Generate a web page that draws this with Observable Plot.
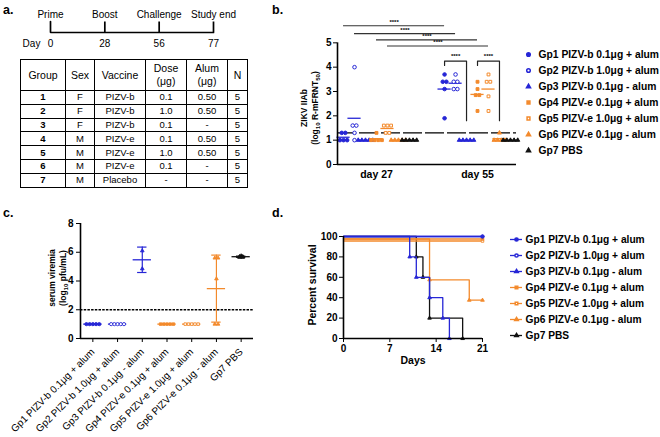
<!DOCTYPE html>
<html><head><meta charset="utf-8">
<script src="https://cdn.jsdelivr.net/npm/d3@7"></script>
<script src="https://cdn.jsdelivr.net/npm/@observablehq/plot@0.6"></script>
<style>
html,body{margin:0;padding:0;background:#fff;}
#root{position:relative;width:660px;height:437px;overflow:hidden;background:#fff;font-family:"Liberation Sans",Arial,Helvetica,sans-serif;color:#000;}
.pos{position:absolute;}
.panel-label{position:absolute;font-weight:bold;font-size:12.5px;line-height:1;}
.ylab{position:absolute;transform:translate(-50%,-50%) rotate(-90deg);white-space:nowrap;text-align:center;font-weight:bold;line-height:1.25;}
.ylab sub{font-size:0.72em;vertical-align:-0.3em;line-height:0;}
table.design{position:absolute;left:20px;top:59px;border-collapse:collapse;table-layout:fixed;font-size:9.5px;border:1.3px solid #000;}
table.design td{border:1px solid #000;padding:0;text-align:center;height:12.8px;line-height:12px;}
table.design tr.head td{height:30px;font-size:10.5px;line-height:13px;}
table.design td.gnum{font-weight:bold;}
#pb svg g[aria-label^="y-axis"] text, #pc svg g[aria-label^="y-axis"] text, #pd svg g[aria-label^="y-axis"] text{font-weight:bold;font-size:10px;}
#pb svg g[aria-label^="x-axis"] text{font-weight:bold;font-size:10.5px;}
#pc svg g[aria-label^="x-axis"] text{font-size:10px;}
#pd svg g[aria-label^="x-axis"] text{font-weight:bold;font-size:10px;}
</style></head>
<body><div id="root"></div>
<script>
// ---------------- data ----------------
const groupNames = ["Gp1 PIZV-b 0.1μg + alum","Gp2 PIZV-b 1.0μg + alum","Gp3 PIZV-b 0.1μg - alum","Gp4 PIZV-e 0.1μg + alum","Gp5 PIZV-e 1.0μg + alum","Gp6 PIZV-e 0.1μg - alum","Gp7 PBS"];

// panel a
const timelineEvents = ["Prime","Boost","Challenge","Study end"];
const timelineDays = ["0","28","56","77"];
const tableHeader = ["Group","Sex","Vaccine","Dose<br>(μg)","Alum<br>(μg)","N"];
const tableGroup = ["1","2","3","4","5","6","7"];
const tableSex = ["F","F","F","M","M","M","M"];
const tableVaccine = ["PIZV-b","PIZV-b","PIZV-b","PIZV-e","PIZV-e","PIZV-e","Placebo"];
const tableDose = ["0.1","1.0","0.1","0.1","1.0","0.1","-"];
const tableAlum = ["0.50","0.50","-","0.50","0.50","-","-"];
const tableN = ["5","5","5","5","5","5","5"];

// panel b: ZIKV nAb, log10, per group (Gp1..Gp7)
const dayLabels = ["day 27","day 55"];
const nabDay27 = [
  [1.3,1.3,1.0,1.0,1.0],
  [4.0,1.6,1.6,1.3,1.0],
  [1.0,1.0,1.0,1.0,1.0],
  [1.3,1.0,1.0,1.0,1.0],
  [1.6,1.6,1.6,1.3,1.3],
  [1.0,1.0,1.0,1.0,1.0],
  [1.0,1.0,1.0,1.0,1.0]
];
const nabDay55 = [
  [3.7,3.4,3.4,3.1,1.9],
  [3.7,3.4,3.4,3.1,3.1],
  [1.0,1.0,1.0,1.0,1.0],
  [3.4,3.1,2.85,2.85,2.2],
  [3.7,3.4,3.4,2.8,2.2],
  [1.3,1.0,1.0,1.0,1.0],
  [1.0,1.0,1.0,1.0,1.0]
];
const lodNab = 1.3;
const sigGroups = [0,1,3,4];          // day 27 vs day 55 comparisons
const sigLevels = [5.7,5.38,5.12,4.87];
const bracketFrom = [0,3], bracketTo = [2,5];
const bracketTop = [4.25,4.25], bracketLeftEnd = [4.07,4.07], bracketRightEnd = [1.8,1.8];
const sigText = "****";

// panel c: serum viremia log10 pfu/mL
const viremia = [
  [1.0,1.0,1.0,1.0,1.0],
  [1.0,1.0,1.0,1.0,1.0],
  [6.1,4.85],
  [1.0,1.0,1.0,1.0,1.0],
  [1.0,1.0,1.0,1.0,1.0],
  [5.6,5.6,4.15,1.0,1.0],
  [5.75,5.7,5.7,5.65,5.65]
];
const lodViremia = 2;

// panel d: survival
const survDays = [[0,21],[0,21],[0,10,11,13,15,16],[0,21],[0,21],[0,13,19,21],[0,11,12,13,18]];
const survPct  = [[100,100],[100,100],[100,80,60,40,20,0],[100,100],[100,100],[100,60,40,40],[100,80,60,20,0]];

// ---------------- styles ----------------
const blue = "#2626d6", orange = "#f38a2c", black = "#111111";
const groupColor = [blue,blue,blue,orange,orange,orange,black];
const groupSymbol = ["circle","circle","triangle","square","square","triangle","triangle"];
const groupOpen = [false,true,false,false,true,false,false];
const symR = {circle:1.8, square:1.6, triangle:1.5};
const survOffset = [0,0,0,2.5,4.5,2.5,0];
const baseStyle = {fontFamily:"'Liberation Sans', Arial, sans-serif", fontSize:"9.5px", background:"transparent", overflow:"visible", color:"#000"};

const root = document.getElementById("root");
function place(el, left, top, id){ const d=document.createElement("div"); d.className="pos"; d.style.left=left+"px"; d.style.top=top+"px"; if(id) d.id=id; d.appendChild(el); root.appendChild(d); return d; }
function label(html, left, top, cls, fs){ const d=document.createElement("div"); d.className=cls; d.style.left=left+"px"; d.style.top=top+"px"; if(fs) d.style.fontSize=fs+"px"; d.innerHTML=html; root.appendChild(d); }
const fillOf = g => groupOpen[g] ? "white" : groupColor[g];

label("a.",3,4,"panel-label"); label("b.",272,4,"panel-label"); label("c.",3,207,"panel-label"); label("d.",272,207,"panel-label");

// ---------------- panel a: timeline ----------------
// one polyline: up-tick at each event joined by the baseline
const timelinePath = timelineDays.flatMap((d,i)=> i===0 ? [{x:i,y:1},{x:i,y:0}] : [{x:i,y:0},{x:i,y:1},{x:i,y:0}]);
const tl = Plot.plot({
  width:260, height:50, marginLeft:50, marginRight:47, marginTop:21, marginBottom:7,
  style:{...baseStyle, fontSize:"10px"},
  x:{domain:[0,timelineDays.length-1], axis:null},
  y:{domain:[-1,1], axis:null},
  marks:[
    Plot.line(timelinePath,{x:"x", y:"y", stroke:"#000", strokeWidth:1.7, strokeLinejoin:"miter", curve:"linear"}),
    Plot.text(timelineEvents,{x:(d,i)=>i, y:1, text:d=>d, dy:-7, fontSize:10}),
    Plot.text(timelineDays,{x:(d,i)=>i, y:0, text:d=>d, dy:11, fontSize:10}),
    Plot.text(["Day"],{x:()=>0, y:0, text:d=>d, dy:11, dx:-19, fontSize:10})
  ]
});
place(tl,0,0,"ptl");

// table
(function(){
  const t=document.createElement("table"); t.className="design";
  const widths=[45,29,51,41,41,20];
  const cg=document.createElement("colgroup"); widths.forEach(w=>{const c=document.createElement("col"); c.style.width=w+"px"; cg.appendChild(c);}); t.appendChild(cg);
  const hr=document.createElement("tr"); hr.className="head";
  tableHeader.forEach(h=>{const td=document.createElement("td"); td.innerHTML=h; hr.appendChild(td);}); t.appendChild(hr);
  tableGroup.forEach((g,i)=>{
    const tr=document.createElement("tr");
    [g,tableSex[i],tableVaccine[i],tableDose[i],tableAlum[i],tableN[i]].forEach((v,j)=>{const td=document.createElement("td"); td.textContent=v; if(j===0) td.className="gnum"; tr.appendChild(td);});
    t.appendChild(tr);
  });
  root.appendChild(t);
})();

// ---------------- helpers ----------------
function spreadOffsets(vals, spread){
  const counts=new Map(); vals.forEach(v=>counts.set(v,(counts.get(v)||0)+1));
  const seen=new Map();
  return vals.map(v=>{const k=counts.get(v); const j=seen.get(v)||0; seen.set(v,j+1); return (j-(k-1)/2)*spread;});
}

// ---------------- panel b ----------------
const dayGap = 9.2, bXmin=-0.55, bXmax=15.75;
const bPoints=[], bMeans=[];
[nabDay27, nabDay55].forEach((dayVals,di)=>dayVals.forEach((vals,g)=>{
  const base=g+di*dayGap; const offs=spreadOffsets(vals,0.33);
  vals.forEach((v,i)=>bPoints.push({g,di,x:base+offs[i],y:v}));
  bMeans.push({g,di,x:base,y:d3.mean(vals)});
}));
const sigData = sigGroups.map((g,i)=>({x1:g, x2:g+dayGap, y:sigLevels[i]}));
const bracketData = [];
bracketFrom.forEach((f,i)=>{
  const xa=f+dayGap, xb=bracketTo[i]+dayGap;
  bracketData.push({k:i,x:xa,y:bracketLeftEnd[i]},{k:i,x:xa,y:bracketTop[i]},{k:i,x:xb,y:bracketTop[i]},{k:i,x:xb,y:bracketRightEnd[i]});
});
const bMarks=[
  Plot.ruleY([lodNab],{stroke:"#000",strokeWidth:1.1,strokeDasharray:"19,3"})
];
groupNames.forEach((name,g)=>{
  bMarks.push(Plot.ruleY(bMeans.filter(d=>d.g===g),{y:"y",x1:d=>d.x-0.6,x2:d=>d.x+0.6,stroke:groupColor[g],strokeWidth:1.3}));
  bMarks.push(Plot.dot(bPoints.filter(d=>d.g===g),{x:"x",y:"y",symbol:groupSymbol[g],r:symR[groupSymbol[g]],fill:fillOf(g),stroke:groupColor[g],strokeWidth:1}));
});
bMarks.push(
  Plot.ruleY(sigData,{y:"y",x1:"x1",x2:"x2",stroke:"#333",strokeWidth:1.1}),
  Plot.text(sigData,{x:d=>(d.x1+d.x2)/2,y:"y",text:()=>sigText,dy:-4,fontSize:6,fontWeight:"bold"}),
  Plot.line(bracketData,{x:"x",y:"y",z:"k",stroke:"#222",strokeWidth:1.2}),
  Plot.text(bracketFrom.map((f,i)=>({x:(f+bracketTo[i])/2+dayGap,y:bracketTop[i]})),{x:"x",y:"y",text:()=>sigText,dy:-5,fontSize:6,fontWeight:"bold"}),
  Plot.ruleX([bXmin],{y1:0,y2:5,strokeWidth:1.6}),
  Plot.ruleY([0],{strokeWidth:1.6})
);
const pb = Plot.plot({
  width:231, height:184, marginLeft:52, marginRight:0, marginTop:8, marginBottom:30,
  style:baseStyle,
  x:{domain:[bXmin,bXmax], ticks:[3,3+dayGap], tickFormat:d=>dayLabels[Math.round((d-3)/dayGap)], tickSize:0, tickPadding:6, label:null},
  y:{domain:[0,6], ticks:[0,1,2,3,4,5], tickFormat:d=>String(d), tickSize:4, tickPadding:2, label:null},
  marks:bMarks
});
place(pb,285,10,"pb");
label("ZIKV IIAb<br>(log<sub>10</sub> R-mFRNT<sub>50</sub>)",310,108,"ylab",8.5);

// legend b
const legB = Plot.plot({
  width:138, height:125, marginLeft:6, marginRight:0, marginTop:12, marginBottom:13,
  style:baseStyle,
  x:{domain:[0,1], range:[6,16], axis:null},
  y:{type:"point", domain:groupNames, padding:0, axis:null},
  marks:[
    ...groupNames.map((n,g)=>Plot.dot([n],{x:0,y:d=>d,symbol:groupSymbol[g],r:symR[groupSymbol[g]],fill:fillOf(g),stroke:groupColor[g]})),
    Plot.text(groupNames,{x:0,y:d=>d,text:d=>d,dx:10,textAnchor:"start",fontSize:10.3,fontWeight:"bold"})
  ]
});
place(legB,522,40);

// ---------------- panel c ----------------
const cPoints=[], cStats=[];
viremia.forEach((vals,g)=>{
  const offs=spreadOffsets(vals,0.13);
  vals.forEach((v,i)=>cPoints.push({g,x:g+offs[i],y:v}));
  const m=d3.mean(vals), s=d3.deviation(vals)||0;
  cStats.push({g,m,lo:m-s,hi:m+s});
});
const cMarks=[Plot.ruleY([lodViremia],{stroke:"#000",strokeWidth:1.3,strokeDasharray:"2.5,1.2"})];
groupNames.forEach((n,g)=>{
  const st=cStats.filter(d=>d.g===g);
  cMarks.push(
    Plot.ruleX(st,{x:"g",y1:"lo",y2:"hi",stroke:groupColor[g],strokeWidth:1.2}),
    Plot.ruleY(st,{y:"lo",x1:d=>d.g-0.19,x2:d=>d.g+0.19,stroke:groupColor[g],strokeWidth:1.2}),
    Plot.ruleY(st,{y:"hi",x1:d=>d.g-0.19,x2:d=>d.g+0.19,stroke:groupColor[g],strokeWidth:1.2}),
    Plot.ruleY(st,{y:"m",x1:d=>d.g-0.37,x2:d=>d.g+0.37,stroke:groupColor[g],strokeWidth:1.3}),
    Plot.dot(cPoints.filter(d=>d.g===g),{x:"x",y:"y",symbol:groupSymbol[g],r:symR[groupSymbol[g]]*0.9,fill:fillOf(g),stroke:groupColor[g],strokeWidth:0.9})
  );
});
cMarks.push(Plot.ruleX([-0.5],{y1:0,y2:8,strokeWidth:1.6}), Plot.ruleY([0],{strokeWidth:1.6}));
const pc = Plot.plot({
  width:265, height:222, marginLeft:80, marginRight:12, marginTop:8, marginBottom:99,
  style:baseStyle,
  x:{domain:[-0.5,6.5], ticks:d3.range(groupNames.length), tickFormat:i=>groupNames[i], tickRotate:-45, tickSize:4, label:null},
  y:{domain:[0,8], ticks:[0,2,4,6,8], tickFormat:d=>String(d), tickSize:4, tickPadding:3, label:null},
  marks:cMarks
});
place(pc,0,215,"pc");
label("serum viremia<br>(log<sub>10</sub> pfu/mL)",58,278,"ylab",8.5);

// ---------------- panel d ----------------
const dMarks=[];
[6,5,4,3,2,1,0].forEach(g=>{
  const data=survDays[g].map((d,i)=>({day:d,pct:survPct[g][i]}));
  dMarks.push(
    Plot.line(data,{x:"day",y:"pct",curve:"step-after",stroke:groupColor[g],strokeWidth:1.3,dy:survOffset[g]}),
    Plot.dot(data.slice(1),{x:"day",y:"pct",symbol:groupSymbol[g],r:symR[groupSymbol[g]]*0.9,fill:fillOf(g),stroke:groupColor[g],strokeWidth:0.9,dy:survOffset[g]})
  );
});
dMarks.push(
  Plot.ruleX([0],{y1:0,y2:100,strokeWidth:1.6}),
  Plot.ruleY([0],{strokeWidth:1.6}),
  Plot.text(["Days"],{frameAnchor:"bottom",text:d=>d,dy:25,fontSize:10.5,fontWeight:"bold"})
);
const pd = Plot.plot({
  width:190, height:145, marginLeft:43, marginRight:8, marginTop:11, marginBottom:32,
  style:baseStyle,
  x:{domain:[0,21], ticks:[0,7,14,21], tickFormat:d=>String(d), tickSize:4, tickPadding:2, label:null},
  y:{domain:[0,100], ticks:[0,20,40,60,80,100], tickFormat:d=>String(d), tickSize:4, tickPadding:2, label:null},
  marks:dMarks
});
place(pd,300,225,"pd");
label("Percent survival",313,285,"ylab",10.5);

// legend d
const legD = Plot.plot({
  width:155, height:125, marginLeft:0, marginRight:0, marginTop:12, marginBottom:13,
  style:baseStyle,
  x:{domain:[0,1], range:[5,17], axis:null},
  y:{type:"point", domain:groupNames, padding:0, axis:null},
  marks:[
    ...groupNames.map((n,g)=>Plot.ruleY([n],{y:d=>d,x1:0,x2:1,stroke:groupColor[g],strokeWidth:1.3})),
    ...groupNames.map((n,g)=>Plot.dot([n],{x:0.5,y:d=>d,symbol:groupSymbol[g],r:symR[groupSymbol[g]]*0.9,fill:fillOf(g),stroke:groupColor[g]})),
    Plot.text(groupNames,{x:1,y:d=>d,text:d=>d,dx:3,textAnchor:"start",fontSize:10.2,fontWeight:"bold"})
  ]
});
place(legD,505,225);
</script>
</body></html>
